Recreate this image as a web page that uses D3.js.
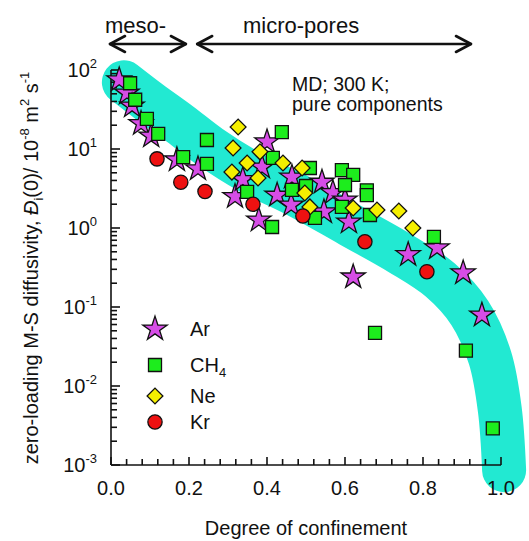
<!DOCTYPE html>
<html><head><meta charset="utf-8">
<script src="https://cdn.jsdelivr.net/npm/d3@7"></script>
<style>
body{margin:0;background:#fff;}
svg{display:block;}
text{font-family:"Liberation Sans",Arial,sans-serif;fill:#111;}
</style>
</head><body>
<svg id="c" width="529" height="541"></svg>
<script>
// ---- data ----
const arX = [0.021,0.041,0.054,0.077,0.103,0.169,0.223,0.318,0.338,0.379,0.387,0.400,0.426,0.464,0.462,0.541,0.569,0.600,0.546,0.610,0.621,0.762,0.836,0.903,0.951];
const arY = [75,51,35,21,14.6,7.3,5.6,2.5,4.1,1.26,5.9,12.3,2.6,4.4,1.95,3.8,2.8,2.26,1.6,1.19,0.24,0.46,0.56,0.27,0.079];

const ch4X = [0.049,0.062,0.092,0.121,0.185,0.246,0.246,0.438,0.415,0.349,0.413,0.510,0.464,0.523,0.592,0.621,0.600,0.656,0.656,0.592,0.664,0.828,0.677,0.910,0.979,0.500];
const ch4Y = [68,42,24,15.5,7.9,13,6.5,16.4,7.7,2.86,1.03,5.75,3.03,1.34,5.4,4.7,3.5,3.0,2.6,1.85,1.46,0.77,0.047,0.028,0.0029,3.4];

const neX = [0.326,0.313,0.382,0.349,0.441,0.310,0.377,0.490,0.497,0.510,0.621,0.682,0.738,0.774];
const neY = [19,10.3,9.2,6.65,6.65,5.1,4.3,5.75,2.77,1.85,1.79,1.69,1.64,1.0];

const krX = [0.118,0.179,0.241,0.364,0.492,0.651,0.810];
const krY = [7.5,3.8,2.9,2.0,1.42,0.67,0.28];

// guide band (centre line)
const bandX = [0.033,0.100,0.177,0.254,0.356,0.485,0.613,0.741,0.844,0.920,0.972,0.997,1.008];
const bandY = [70,39,20.7,10.6,5.1,2.47,1.09,0.48,0.22,0.084,0.0226,0.005,0.00086];

const xTicks = [0,0.2,0.4,0.6,0.8,1.0];
const xTickLabels = ["0.0","0.2","0.4","0.6","0.8","1.0"];
const yTicks = [1e2,1e1,1e0,1e-1,1e-2,1e-3];
const yTickExps = ["2","1","0","-1","-2","-3"];

const seriesNames = ["Ar","CH4","Ne","Kr"];

// ---- chart ----
const svg = d3.select("#c");
const L = 111, R = 501, T = 70, B = 465;
const x = d3.scaleLinear().domain([0,1]).range([L,R]);
const y = d3.scaleLog().domain([1e-3,1e2]).range([B,T]);

// band
const bandPts = bandX.map((v,i)=>[x(v), y(bandY[i])]);
svg.append("path")
  .attr("d", d3.line().curve(d3.curveCatmullRom.alpha(0.5))(bandPts))
  .attr("fill","none").attr("stroke","#22e9d2").attr("stroke-width",44)
  .attr("stroke-linecap","round").attr("stroke-linejoin","round");

// axes
const ax = svg.append("g").attr("stroke","#111").attr("stroke-width",1.6);
ax.append("line").attr("x1",L).attr("x2",L).attr("y1",T).attr("y2",B);
ax.append("line").attr("x1",L).attr("x2",R).attr("y1",B).attr("y2",B);
// x ticks every 0.04
const xMinor = d3.range(0,1.0001,0.04);
ax.selectAll(".xt").data(xMinor).enter().append("line")
  .attr("x1",d=>x(d)).attr("x2",d=>x(d)).attr("y1",B)
  .attr("y2",d=> (Math.abs(d*5-Math.round(d*5))<1e-6 ? B-8 : B-6));
// y ticks (log)
const yMinor = [];
for (let e=-3;e<2;e++) for (let k=2;k<10;k++) yMinor.push(k*Math.pow(10,e));
ax.selectAll(".ym").data(yMinor).enter().append("line")
  .attr("x1",L).attr("x2",L+6).attr("y1",d=>y(d)).attr("y2",d=>y(d));
ax.selectAll(".yM").data(yTicks).enter().append("line")
  .attr("x1",L).attr("x2",L+9).attr("y1",d=>y(d)).attr("y2",d=>y(d));

// x tick labels
svg.selectAll(".xl").data(xTicks).enter().append("text")
  .attr("x",d=>x(d)).attr("y",B+30).attr("text-anchor","middle")
  .attr("font-size",20).text((d,i)=>xTickLabels[i]);
// y tick labels
const yl = svg.selectAll(".yl").data(yTicks).enter().append("text")
  .attr("x",L-14).attr("y",d=>y(d)+7).attr("text-anchor","end").attr("font-size",20);
yl.append("tspan").text("10");
yl.append("tspan").attr("font-size",13).attr("dy",-9).text((d,i)=>yTickExps[i]);

// axis titles
svg.append("text").attr("x",(L+R)/2).attr("y",535).attr("text-anchor","middle")
  .attr("font-size",20).text("Degree of confinement");
const yt = svg.append("text").attr("transform","translate(38,268) rotate(-90)")
  .attr("text-anchor","middle").attr("font-size",20);
yt.append("tspan").text("zero-loading M-S diffusivity, ");
yt.append("tspan").attr("font-style","italic").text("Đ");
yt.append("tspan").attr("font-size",13).attr("dy",5).text("i");
yt.append("tspan").attr("dy",-5).text("(0)/ 10");
yt.append("tspan").attr("font-size",13).attr("dy",-9).text("-8");
yt.append("tspan").attr("dy",9).text(" m");
yt.append("tspan").attr("font-size",13).attr("dy",-9).text("2");
yt.append("tspan").attr("dy",9).text(" s");
yt.append("tspan").attr("font-size",13).attr("dy",-9).text("-1");

// annotations
svg.append("text").attr("x",292).attr("y",91).attr("font-size",19.5).text("MD; 300 K;");
svg.append("text").attr("x",292).attr("y",111).attr("font-size",19.5).text("pure components");
svg.append("text").attr("x",105).attr("y",33).attr("font-size",22).text("meso-");
svg.append("text").attr("x",243).attr("y",33).attr("font-size",22).text("micro-pores");

function dblArrow(x1,x2,yy){
  const g = svg.append("g").attr("stroke","#111").attr("stroke-width",2.6).attr("fill","none")
    .attr("stroke-linecap","round").attr("stroke-linejoin","round");
  g.append("line").attr("x1",x1).attr("x2",x2).attr("y1",yy).attr("y2",yy);
  g.append("polyline").attr("points",`${x1+15},${yy-8} ${x1},${yy} ${x1+15},${yy+8}`);
  g.append("polyline").attr("points",`${x2-15},${yy-8} ${x2},${yy} ${x2-15},${yy+8}`);
}
dblArrow(x(0.0)-1, x(0.192), 44);
dblArrow(x(0.221), x(0.923), 44);

// markers
const sym = {
  Ar: d3.symbol(d3.symbolStar).size(185)(),
  CH4: d3.symbol(d3.symbolSquare).size(169)(),
  Ne: d3.symbol(d3.symbolSquare).size(125)(),
  Kr: d3.symbol(d3.symbolCircle).size(160)()
};
const fills = {Ar:"#d64de6", CH4:"#1ded1d", Ne:"#f5ef00", Kr:"#ee1111"};
const rot = {Ar:0, CH4:0, Ne:45, Kr:0};
function drawSeries(name, xs, ys){
  svg.append("g").selectAll("path").data(xs.map((v,i)=>[v,ys[i]])).enter().append("path")
    .attr("d", sym[name])
    .attr("transform", d=>`translate(${x(d[0])},${y(d[1])}) rotate(${rot[name]})`)
    .attr("fill", fills[name]).attr("stroke","#111").attr("stroke-width",1.3);
}
drawSeries("Ar", arX, arY);
drawSeries("CH4", ch4X, ch4Y);
drawSeries("Ne", neX, neY);
drawSeries("Kr", krX, krY);

// legend
const legY = [329,365,396,422];
seriesNames.forEach((n,i)=>{
  svg.append("path").attr("d",sym[n])
    .attr("transform",`translate(155,${legY[i]}) rotate(${rot[n]})`)
    .attr("fill",fills[n]).attr("stroke","#111").attr("stroke-width",1.3);
  const t = svg.append("text").attr("x",190).attr("y",legY[i]+7).attr("font-size",20);
  if (n==="CH4"){ t.append("tspan").text("CH"); t.append("tspan").attr("font-size",13).attr("dy",5).text("4"); }
  else t.text(n);
});
</script>
</body></html>
